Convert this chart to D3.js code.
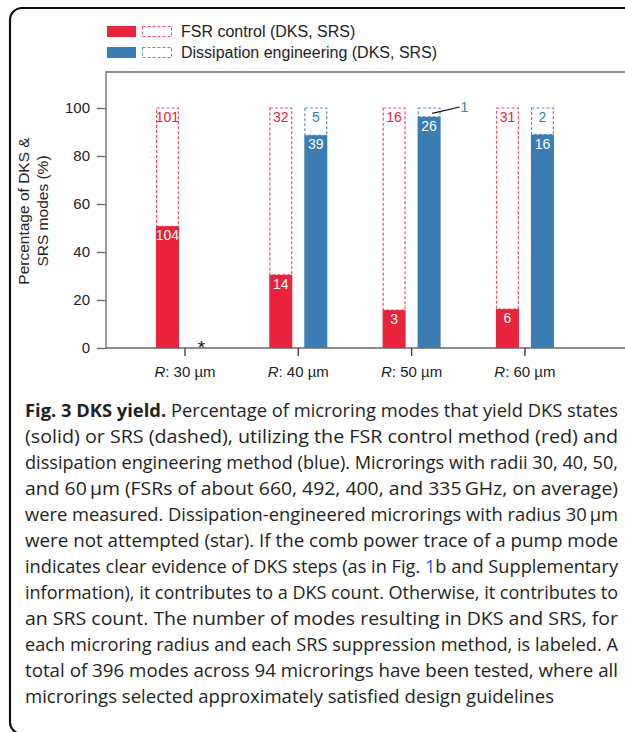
<!DOCTYPE html>
<html>
<head>
<meta charset="utf-8">
<script src="https://cdn.jsdelivr.net/npm/d3@7"></script>
<style>
  body { margin: 0; background: #fff; }
  svg { display: block; }
</style>
</head>
<body>
<div id="main"></div>
<script>
"use strict";

// radii of the tested microrings (µm)
const radii = ["30", "40", "50", "60"];
// mode counts per radius, FSR control method
const fsrDKS = [104, 14, 3, 6];
const fsrSRS = [101, 32, 16, 31];
// mode counts per radius, dissipation engineering (30 µm not attempted)
const dissDKS = [null, 39, 26, 16];
const dissSRS = [null, 5, 1, 2];
const yTicks = [0, 20, 40, 60, 80, 100];

const methods = [
    { key: "fsr", name: "FSR control (DKS, SRS)", dks: fsrDKS, srs: fsrSRS, color: "#e8233a", dash: "#ee4b60" },
    { key: "diss", name: "Dissipation engineering (DKS, SRS)", dks: dissDKS, srs: dissSRS, color: "#3a7db3", dash: "#5592c6" }
];

const captionLines = [
    [{ t: "Fig. 3 DKS yield.", b: true }, { t: " Percentage of microring modes that yield DKS states" }],
    [{ t: "(solid) or SRS (dashed), utilizing the FSR control method (red) and" }],
    [{ t: "dissipation engineering method (blue). Microrings with radii 30, 40, 50," }],
    [{ t: "and 60\u2009\u00b5m (FSRs of about 660, 492, 400, and 335\u2009GHz, on average)" }],
    [{ t: "were measured. Dissipation-engineered microrings with radius 30\u2009\u00b5m" }],
    [{ t: "were not attempted (star). If the comb power trace of a pump mode" }],
    [{ t: "indicates clear evidence of DKS steps (as in Fig. " }, { t: "1", link: true }, { t: "b and Supplementary" }],
    [{ t: "information), it contributes to a DKS count. Otherwise, it contributes to" }],
    [{ t: "an SRS count. The number of modes resulting in DKS and SRS, for" }],
    [{ t: "each microring radius and each SRS suppression method, is labeled. A" }],
    [{ t: "total of 396 modes across 94 microrings have been tested, where all" }],
    [{ t: "microrings selected approximately satisfied design guidelines" }]
];

const width = 625, height = 732;
const svg = d3.select("#main").append("svg")
    .attr("width", width)
    .attr("height", height)
    .style("font-family", "'Liberation Sans', Arial, sans-serif");

// outer rounded frame (right and bottom edges run off the picture)
svg.append("rect")
    .attr("x", 10).attr("y", 8)
    .attr("width", 700).attr("height", 726)
    .attr("rx", 12)
    .attr("fill", "none")
    .attr("stroke", "#111")
    .attr("stroke-width", 2.2);

const plotLeft = 106, plotTop = 72, plotBottom = 348;

const y = d3.scaleLinear().domain([0, 100]).range([plotBottom, 108]);
const x = d3.scaleBand().domain(radii).range([128.3, 581.6]);
const xSub = d3.scaleBand().domain(methods.map(m => m.key)).range([-29, 29]).paddingInner(0.343);

// plot frame: top line, left axis line, bottom axis line
const axisColor = "#6a6a6a";
svg.append("path")
    .attr("d", `M${width},${plotTop}H${plotLeft}V${plotBottom}H${width}`)
    .attr("fill", "none")
    .attr("stroke", axisColor)
    .attr("stroke-width", 1.3);

// y axis ticks
const yAxis = svg.append("g")
    .attr("transform", `translate(${plotLeft},0)`)
    .call(d3.axisLeft(y).tickValues(yTicks).tickSize(9).tickPadding(7));
yAxis.select(".domain").remove();
yAxis.selectAll("line").attr("stroke", axisColor).attr("stroke-width", 1.3);
yAxis.selectAll("text")
    .style("font-family", "'Liberation Sans', Arial, sans-serif")
    .style("font-size", "15px")
    .attr("fill", "#222");

// x axis ticks + labels
const xAxis = svg.append("g")
    .attr("transform", `translate(0,${plotBottom})`)
    .call(d3.axisBottom(x).tickSize(8).tickFormat(""));
xAxis.select(".domain").remove();
xAxis.selectAll("line").attr("stroke", "#333").attr("stroke-width", 1.3);

const xLab = svg.append("g").selectAll("text")
    .data(radii)
    .join("text")
    .attr("x", d => x(d) + x.bandwidth() / 2)
    .attr("y", 377)
    .attr("text-anchor", "middle")
    .style("font-size", "15px")
    .attr("fill", "#222");
xLab.append("tspan").style("font-style", "italic").text("R");
xLab.append("tspan").text(d => `: ${d} \u00b5m`);

// y axis title
svg.append("text")
    .attr("transform", "translate(29,211) rotate(-90)")
    .attr("text-anchor", "middle")
    .style("font-size", "15.5px")
    .attr("fill", "#222")
    .call(t => {
        t.append("tspan").attr("x", 0).attr("dy", 0).text("Percentage of DKS &");
        t.append("tspan").attr("x", 0).attr("dy", 19).text("SRS modes (%)");
    });

// bars
const bars = [];
methods.forEach(m => {
    radii.forEach((r, i) => {
        if (m.dks[i] == null) return;
        const total = m.dks[i] + m.srs[i];
        bars.push({ m, r, dks: m.dks[i], srs: m.srs[i], pct: 100 * m.dks[i] / total });
    });
});

const barX = d => x(d.r) + x.bandwidth() / 2 + xSub(d.m.key);
const bw = xSub.bandwidth();

const gBars = svg.append("g");
// dashed SRS outline spanning the full 100 %
gBars.selectAll("rect.srs")
    .data(bars)
    .join("rect")
    .attr("class", "srs")
    .attr("x", d => barX(d) + 0.6)
    .attr("y", y(100))
    .attr("width", bw - 1.2)
    .attr("height", d => y(d.pct) - y(100))
    .attr("fill", "none")
    .attr("stroke", d => d.m.dash)
    .attr("stroke-width", 1.2)
    .attr("stroke-dasharray", "3,2");

// solid DKS part
gBars.selectAll("rect.dks")
    .data(bars)
    .join("rect")
    .attr("class", "dks")
    .attr("x", d => barX(d))
    .attr("y", d => y(d.pct))
    .attr("width", bw)
    .attr("height", d => y(0) - y(d.pct))
    .attr("fill", d => d.m.color);

// DKS count labels (white inside solid part)
gBars.selectAll("text.dks")
    .data(bars)
    .join("text")
    .attr("class", "dks")
    .attr("x", d => barX(d) + bw / 2)
    .attr("y", d => y(d.pct) + 14)
    .attr("text-anchor", "middle")
    .style("font-size", "14px")
    .attr("fill", "#fff")
    .text(d => d.dks);

// SRS count labels (inside dashed box, or outside with a leader when the box is too thin)
const thin = d => y(d.pct) - y(100) < 15;
gBars.selectAll("text.srs")
    .data(bars)
    .join("text")
    .attr("class", "srs")
    .attr("x", d => thin(d) ? barX(d) + bw + 20 : barX(d) + bw / 2)
    .attr("y", d => thin(d) ? y(100) + 4 : y(100) + 13.5)
    .attr("text-anchor", d => thin(d) ? "start" : "middle")
    .style("font-size", "14px")
    .attr("fill", d => d.m.color)
    .text(d => d.srs);

gBars.selectAll("line.leader")
    .data(bars.filter(thin))
    .join("line")
    .attr("class", "leader")
    .attr("x1", d => barX(d) + bw / 2 + 3)
    .attr("y1", d => (y(100) + y(d.pct)) / 2 + 1)
    .attr("x2", d => barX(d) + bw + 19)
    .attr("y2", d => y(100) - 1)
    .attr("stroke", "#111")
    .attr("stroke-width", 1.2);

// star: dissipation engineering at 30 µm not attempted
radii.forEach((r, i) => {
    if (dissDKS[i] != null) return;
    svg.append("text")
        .attr("x", x(r) + x.bandwidth() / 2 + xSub("diss") + bw / 2 - 1)
        .attr("y", 354)
        .attr("text-anchor", "middle")
        .style("font-size", "19px")
        .attr("fill", "#111")
        .text("*");
});

// legend
const legend = svg.append("g");
methods.forEach((m, i) => {
    const ly = 26 + i * 21;
    legend.append("rect")
        .attr("x", 107).attr("y", ly)
        .attr("width", 29).attr("height", 11)
        .attr("fill", m.color);
    legend.append("rect")
        .attr("x", 142.5).attr("y", ly + 0.5)
        .attr("width", 29).attr("height", 10)
        .attr("fill", "none")
        .attr("stroke", m.dash)
        .attr("stroke-width", 1)
        .attr("stroke-dasharray", "3,2");
    legend.append("text")
        .attr("x", 181).attr("y", ly + 11)
        .style("font-size", "16px")
        .attr("fill", "#222")
        .text(m.name);
});

// caption, justified line by line (last line kept ragged)
const capLeft = 25, capRight = 618, lastRight = 554;
const cap = svg.append("g")
    .style("font-family", "'Open Sans', 'Noto Sans', sans-serif")
    .style("font-size", "18px")
    .attr("fill", "#231f20");
captionLines.forEach((line, i) => {
    const t = cap.append("text")
        .attr("x", capLeft)
        .attr("y", 417 + i * 26);
    line.forEach(part => {
        const s = t.append("tspan").text(part.t);
        if (part.b) s.style("font-weight", "bold");
        if (part.link) s.attr("fill", "#2255d8");
    });
    const right = i < captionLines.length - 1 ? capRight : lastRight;
    t.attr("textLength", right - capLeft).attr("lengthAdjust", "spacingAndGlyphs");
});
</script>
</body>
</html>
